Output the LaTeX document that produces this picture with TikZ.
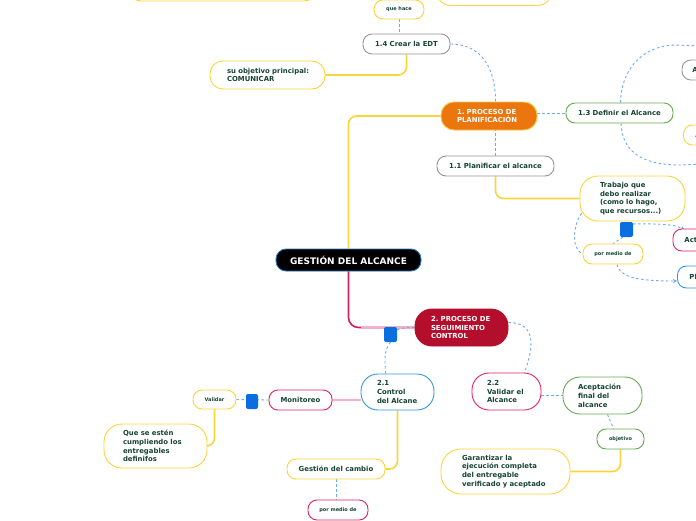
\documentclass[tikz,border=0pt]{standalone}
\usepackage{fontspec}
\setmainfont{DejaVu Sans}
\usetikzlibrary{calc,arrows.meta}
\hyphenpenalty=10000
\exhyphenpenalty=10000
\definecolor{txt}{RGB}{22,68,52}
\definecolor{cyel}{RGB}{250,212,60}
\definecolor{cyelb}{RGB}{250,200,70}
\definecolor{cgray}{RGB}{150,150,150}
\definecolor{cgrn}{RGB}{100,170,80}
\definecolor{cpnk}{RGB}{225,35,95}
\definecolor{cblu}{RGB}{50,150,230}
\definecolor{corange}{RGB}{236,118,14}
\definecolor{ccrim}{RGB}{180,14,45}
\definecolor{croot}{RGB}{40,120,190}
\definecolor{cdash}{RGB}{110,170,235}
\definecolor{csq}{RGB}{10,110,225}
\definecolor{cpinkl}{RGB}{248,175,200}
\definecolor{cconP}{RGB}{215,30,90}
\pgfdeclarelayer{bg}
\pgfsetlayers{bg,main}
\tikzset{
  nd/.style={draw, fill=white, line width=0.9pt, rounded corners=9pt, inner sep=0pt,
    font=\bfseries\fontsize{6.9}{8.8}\selectfont, text=txt, align=center},
  sm/.style={font=\bfseries\fontsize{5}{6}\selectfont},
  ml/.style 2 args={align=left, text width=#1, inner xsep=#2, inner ysep=0pt},
  yel/.style={draw=cyel}, gry/.style={draw=cgray}, grn/.style={draw=cgrn},
  pnk/.style={draw=cpnk}, blu/.style={draw=cblu},
  conY/.style={draw=cyel, line width=1.6pt, rounded corners=8pt},
  dsh/.style={draw=cdash, line width=0.9pt, dash pattern=on 2.5pt off 2.5pt},
  sqbox/.style={fill=csq, rounded corners=2pt, minimum width=13pt, minimum height=15pt, inner sep=0pt},
}
\begin{document}
\begin{tikzpicture}[x=1pt,y=-1pt]
\useasboundingbox (0,0) rectangle (696,520);
\clip (0,0) rectangle (696,520);

% nodes
\node[nd, draw=croot, fill=black, text=white, font=\bfseries\fontsize{9}{11}\selectfont,
  minimum width=145pt, minimum height=22pt, rounded corners=10pt] (root) at (348.5,260) {GESTIÓN DEL ALCANCE};
\node[nd, draw=cyelb, fill=corange, text=white, ml={64pt}{16pt}, minimum height=28pt, rounded corners=13pt] (p1) at (489,116) {1.~PROCESO~DE\\PLANIFICACIÓN};
\node[nd, gry, minimum width=117pt, minimum height=20pt] (pl11) at (495.5,166) {1.1 Planificar el alcance};
\node[nd, grn, minimum width=107pt, minimum height=20pt] (def) at (619.5,113) {1.3 Definir el Alcance};
\node[nd, gry, minimum width=87pt, minimum height=20pt] (edt) at (406.5,44) {1.4 Crear la EDT};
\node[nd, yel, sm, minimum width=50pt, minimum height=19pt] (qh) at (399,9.5) {que hace};
\node[nd, yel, ml={81pt}{17pt}, minimum height=28pt, rounded corners=13pt] (obj) at (267.5,75) {\mbox{su~objetivo~principal:}\\COMUNICAR};
\node[nd, yel, minimum width=189pt, minimum height=32pt, rounded corners=13pt] (topl) at (222.5,-15) {};
\node[nd, yel, minimum width=114pt, minimum height=31pt, rounded corners=13pt] (topr) at (494,-10) {};
\node[nd, gry, anchor=west, ml={40pt}{10.5pt}, minimum height=20pt] (ra1) at (681.5,70) {A};
\node[nd, yel, anchor=west, ml={40pt}{12pt}, minimum height=20pt] (ra2) at (683,135) {A};
\node[nd, yel, ml={65pt}{20pt}, minimum height=45pt, rounded corners=18pt] (trab) at (632.5,198.5) {Trabajo~que\\debo~realizar\\(como~lo~hago,\\que~recursos...)};
\node[sqbox] (sq1) at (626.5,229.5) {};
\node[nd, yel, sm, minimum width=60pt, minimum height=20pt] (pmd1) at (613,254) {por medio de};
\node[nd, pnk, anchor=west, ml={40pt}{11.5pt}, minimum height=22pt] (act) at (672.5,240) {Act};
\node[nd, blu, anchor=west, ml={40pt}{12pt}, minimum height=22pt] (pl) at (677,277) {Pl};
\node[nd, draw=ccrim, fill=ccrim, text=white, ml={61pt}{16pt}, minimum height=37pt, rounded corners=17pt] (p2) at (461.5,327.5) {2.~PROCESO~DE\\SEGUIMIENTO\\CONTROL};
\node[sqbox] (sq2) at (390.5,334.5) {};
\node[nd, blu, ml={41pt}{16pt}, minimum height=36pt, rounded corners=17pt] (c21) at (397.5,392) {2.1\\Control\\del~Alcane};
\node[nd, pnk, ml={39pt}{15pt}, minimum height=37pt, rounded corners=17pt] (v22) at (506.5,391.5) {2.2\\Validar~el\\Alcance};
\node[nd, grn, ml={49pt}{15pt}, minimum height=37pt, rounded corners=17pt] (acep) at (602.5,395.5) {Aceptación\\final~del\\alcance};
\node[nd, grn, sm, minimum width=47pt, minimum height=20pt] (objt) at (620.5,439) {objetivo};
\node[nd, yel, ml={87pt}{21pt}, minimum height=45pt, rounded corners=20pt] (gar) at (505.5,471.5) {Garantizar~la\\ejecución~completa\\del~entregable\\verificado~y~aceptado};
\node[nd, pnk, minimum width=63pt, minimum height=20pt] (mon) at (300.5,400) {Monitoreo};
\node[sqbox, minimum width=12pt] (sq3) at (252,401.5) {};
\node[nd, yel, sm, minimum width=43pt, minimum height=19pt] (val) at (214.5,399.5) {Validar};
\node[nd, yel, ml={65pt}{19pt}, minimum height=44pt, rounded corners=18pt] (que) at (155.5,446) {Que~se~estén\\cumpliendo~los\\entregables\\definifos};
\node[nd, yel, minimum width=98pt, minimum height=20pt] (ges) at (336,469) {Gestión del cambio};
\node[nd, pnk, sm, minimum width=60pt, minimum height=20pt] (pmd2) at (338,510) {por medio de};

\coordinate (arcT) at (702,46);
\coordinate (arcB) at (702,164);

\begin{pgfonlayer}{bg}
\draw[conY] (root.north) |- (p1.west);
\draw[draw=cconP, line width=1.6pt, rounded corners=10pt] (root.south) |- (p2.west);
\draw[draw=cpinkl, line width=1.6pt] ($(root.south |- p2.west)+(12,0)$) -- (p2.west);
\draw[dsh] (pl11.north) -- (pl11.north |- p1.south);
\draw[dsh] (edt.east) .. controls +(30,0) and +(0,-35) .. (pl11.north |- p1.north);
\draw[dsh] (p1.east |- def.west) -- (def.west);
\draw[dsh] ($(def.north)+(1,0)$) .. controls (621,72) and (640,46) .. (675,45) -- (arcT);
\draw[dsh] ($(def.south)+(1.5,0)$) .. controls (622,150) and (640,165) .. (680,165) -- (arcB);
\draw[dsh] (qh.south) -- (qh.south |- edt.north);
\draw[conY] (edt.south) |- (obj.east);
\draw[conY] (pl11.south) |- (trab.west);
\draw[dsh, -{Stealth[length=4pt,width=4pt]}] ($(sq1.north east)+(0,2)$) .. controls +(30,0) and +(-10,-5) .. ($(act.north west)+(12,1)$);
\draw[dsh] ($(sq1.south west)+(3,0)$) -- (pmd1.north);
\draw[dsh] ($(trab.south west)+(2,-8)$) .. controls +(-8,10) and +(-12,-5) .. (pmd1.west);
\draw[dsh, -{Stealth[length=4pt,width=4pt]}] ($(pmd1.south)+(4,0)$) .. controls +(3,15) and +(-30,0) .. ($(pl.west)+(0,4)$);
\draw[dsh] ($(sq2.north east)+(0,3)$) .. controls +(8,-3) and +(-5,0) .. (p2.west);
\draw[dsh] (sq2.south) .. controls +(-8,10) and +(0,-10) .. ($(c21.north)+(-12,0)$);
\draw[dsh] ($(p2.east)+(0,-5)$) .. controls +(30,0) and +(8,-22) .. ($(v22.north)+(18,0)$);
\draw[draw=cpinkl, line width=1.5pt] (mon.east) -- (mon.east -| c21.west);
\draw[dsh] (val.east) -- (mon.west);
\draw[conY] (val.south) |- (que.east);
\draw[conY] (c21.south) |- (ges.east);
\draw[dsh] (ges.south) -- (ges.south |- pmd2.north);
\draw[dsh] (acep.west -| v22.east) -- (acep.west);
\draw[dsh] ($(acep.south)+(5,0)$) -- ($(objt.north)+(-7,0)$);
\draw[conY] (objt.south) |- (gar.east);
\end{pgfonlayer}
\end{tikzpicture}
\end{document}
